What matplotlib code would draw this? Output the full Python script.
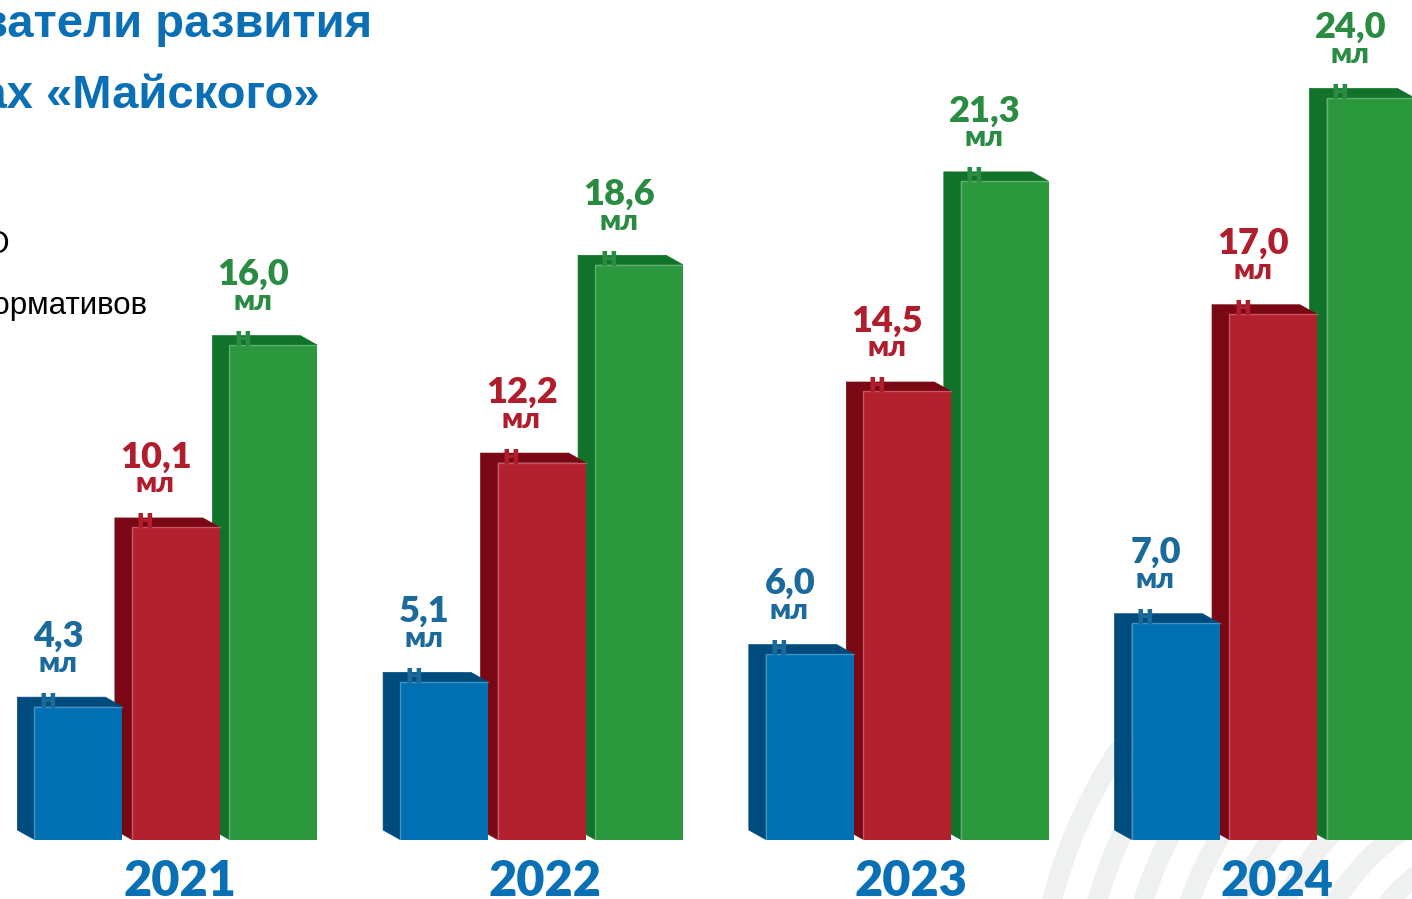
import matplotlib

matplotlib.use("Agg")

import matplotlib.pyplot as plt
from matplotlib.patches import Polygon, Rectangle, Wedge
from matplotlib.transforms import offset_copy

# data
years = ["2021", "2022", "2023", "2024"]
series_blue = [4.3, 5.1, 6.0, 7.0]
series_red = [10.1, 12.2, 14.5, 17.0]
series_green = [16.0, 18.6, 21.3, 24.0]
unit_top = "мл"
unit_bottom = "н"
title_lines = ["Основные показатели развития", "в цифрах «Майского»"]
legend_texts = ["Выполнение плана ДО", "Выполнение нормативов"]

W, H, DPI = 1412, 899, 100

# (front, side/top, label) colours per series
styles = [
    ("#0070B3", "#004B7D", "#1A6A9C"),
    ("#B3202E", "#7A0814", "#B01E2D"),
    ("#2B983E", "#11722A", "#2A8B42"),
]
series = [series_blue, series_red, series_green]

fig = plt.figure(figsize=(W / DPI, H / DPI), dpi=DPI, facecolor="white")

# background stripes (decorative arcs, bottom right)
bg = fig.add_axes([0, 0, 1, 1], zorder=0)
bg.set_xlim(0, W)
bg.set_ylim(H, 0)
bg.axis("off")
clip = Rectangle((1020, 742), W - 1020, H - 742, transform=bg.transData, visible=False)
bg.add_patch(clip)
for r in [512, 468, 424, 380, 336, 292, 248, 204]:
    arc = Wedge((1538, 1026), r, 0, 360, width=20, facecolor="#EFF1F0", edgecolor="none")
    bg.add_patch(arc)
    arc.set_clip_path(clip)

ax = fig.add_axes([0, 0, 1, 1], zorder=1)
ax.patch.set_alpha(0)
ax.set_xlim(-0.481, 3.380)
ax.set_ylim(-1.925, 27.17)
ax.axis("off")

stride = 0.2666
width = 0.2406
dx = -0.0465
dy = 0.307

val_font = dict(family=["Lato", "DejaVu Sans"], fontweight=800)

for i, year in enumerate(years):
    # draw right to left so front faces cover neighbours' side faces
    for j in [2, 1, 0]:
        v = series[j][i]
        front, dark, lab = styles[j]
        x0 = i + (j - 1) * stride - width / 2
        side = Polygon([(x0, 0), (x0, v), (x0 + dx, v + dy), (x0 + dx, dy)],
                       closed=True, facecolor=dark, edgecolor=dark, lw=0.5, zorder=2)
        top = Polygon([(x0, v), (x0 + width, v), (x0 + width + dx, v + dy), (x0 + dx, v + dy)],
                      closed=True, facecolor=dark, edgecolor=dark, lw=0.5, zorder=2)
        face = Rectangle((x0, 0), width, v, facecolor=front, edgecolor="none", zorder=3)
        ax.add_patch(side)
        ax.add_patch(top)
        ax.add_patch(face)
        ax.plot([x0, x0, x0 + width], [0, v, v], color="white", alpha=0.25, lw=1, zorder=4)

        cx = x0 + width / 2 + dx
        label = f"{v:.1f}".replace(".", ",")
        ax.text(cx, v, label, color=lab, fontsize=26, ha="center", va="baseline", zorder=6,
                transform=offset_copy(ax.transData, fig=fig, x=-3, y=60, units="dots"), **val_font)
        ax.text(cx, v, unit_top, color=lab, fontsize=21, ha="left", va="baseline", zorder=6,
                transform=offset_copy(ax.transData, fig=fig, x=-23, y=35, units="dots"), **val_font)
        ax.text(cx, v, unit_bottom, color=lab, fontsize=21, ha="left", va="baseline", zorder=6,
                transform=offset_copy(ax.transData, fig=fig, x=-22, y=-1, units="dots"), **val_font)

    ax.text(i + 0.01, -1.82, year, color="#0A70B5", fontsize=35, ha="center", va="baseline",
            zorder=6, **val_font)

# title and legend, cut off at the left edge as on the slide
fig.text(372 / W, 1 - 37 / H, title_lines[0], color="#0A6FB5", fontsize=34, fontweight="bold",
         family="Liberation Sans", ha="right", va="baseline")
fig.text(320 / W, 1 - 108 / H, title_lines[1], color="#0A6FB5", fontsize=34, fontweight="bold",
         family="Liberation Sans", ha="right", va="baseline")
fig.text(10 / W, 1 - 253 / H, legend_texts[0], color="black", fontsize=22.5,
         family="Liberation Sans", ha="right", va="baseline")
fig.text(147 / W, 1 - 314 / H, legend_texts[1], color="black", fontsize=22.5,
         family="Liberation Sans", ha="right", va="baseline")

fig.savefig("out.png", dpi=DPI, facecolor="white")
